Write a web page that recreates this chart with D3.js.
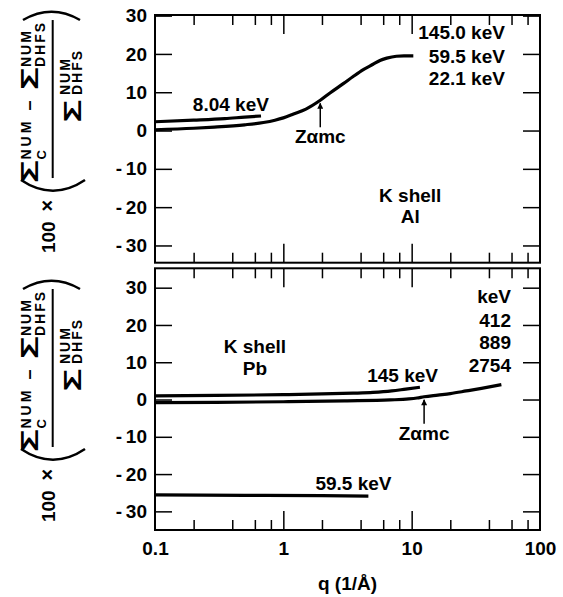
<!DOCTYPE html>
<html>
<head>
<meta charset="utf-8">
<script src="https://cdn.jsdelivr.net/npm/d3@7"></script>
<style>
body{margin:0;background:#fff}
svg text{font-family:"Liberation Sans",Arial,sans-serif;font-weight:bold;fill:#000}
.axis text{font-size:19px}
.tick line{stroke:#000;stroke-width:1.5}
</style>
</head>
<body>
<div id="chart"></div>
<script>
// q axis, 1/Å
const qLabels=[0.1,1,10,100];
const qMajor=[1,10];
const qMinor=[0.2,0.4,0.6,0.8,2,4,6,8,20,40,60,80];
const yTicks=[-30,-20,-10,0,10,20,30];

// K shell Al : 8.04 keV
const alLowQ=[0.1,0.2,0.35,0.5,0.67];
const alLowV=[2.3,2.7,3.1,3.5,3.8];
// K shell Al : 145.0 / 59.5 / 22.1 keV
const alHighQ=[0.1,0.2,0.29,0.5,0.7,0.86,1.0,1.2,1.5,1.94,2.31,2.95,3.5,4.2,5.0,5.66,6.4,7.6,8.7,10.3];
const alHighV=[0.2,0.6,0.9,1.5,2.1,2.7,3.3,4.3,5.6,7.9,9.8,12.3,14.1,15.9,17.3,18.3,18.9,19.4,19.5,19.5];
const alZamc=1.94;

// K shell Pb : 145 keV
const pb145Q=[0.1,0.3,1.0,2.0,3.5,5.0,7.0,9.0,11.6];
const pb145V=[1.0,1.1,1.3,1.5,1.7,1.9,2.3,2.8,3.3];
// K shell Pb : 412 / 889 / 2754 keV
const pbHighQ=[0.1,0.3,1.0,3.0,6.8,9.5,11.0,12.5,16,20,26.6,35,50];
const pbHighV=[-0.85,-0.75,-0.6,-0.35,-0.1,0.15,0.4,0.75,1.2,1.6,2.3,3.0,4.0];
// K shell Pb : 59.5 keV
const pb59Q=[0.1,0.5,2.0,4.6];
const pb59V=[-25.6,-25.7,-25.8,-25.9];
const pbZamc=12.5;

const W=563,H=597,L=155,R=540;
const svg=d3.select("#chart").append("svg").attr("width",W).attr("height",H);
svg.append("rect").attr("width",W).attr("height",H).attr("fill","#fff");

const defs=svg.append("defs");
defs.append("marker").attr("id","head")
    .attr("viewBox","0 0 10 10").attr("refX",9).attr("refY",5)
    .attr("markerUnits","userSpaceOnUse")
    .attr("markerWidth",9).attr("markerHeight",6).attr("orient","auto")
  .append("path").attr("d","M0,0L10,5L0,10z").attr("fill","#000");

const x=d3.scaleLog().domain([0.1,100]).range([L,R]);

const panels=[
  {top:15,bottom:262.7,dom:[-34.5,30.16],
   curves:[[alLowQ,alLowV],[alHighQ,alHighV]],arrow:alZamc,arrowCurve:[alHighQ,alHighV]},
  {top:268.3,bottom:530,dom:[-35.0,35.2],
   curves:[[pb145Q,pb145V],[pbHighQ,pbHighV],[pb59Q,pb59V]],arrow:pbZamc,arrowCurve:[pbHighQ,pbHighV]}
];
panels.forEach(p=>{p.y=d3.scaleLinear().domain(p.dom).range([p.bottom,p.top]);});

const fmtY=d=>d<0?"-\u2009"+(-d):String(d);

function interp(qs,vs,q){
  const lq=Math.log10(q);
  for(let i=1;i<qs.length;i++){
    if(q<=qs[i]){
      const a=Math.log10(qs[i-1]),b=Math.log10(qs[i]);
      return vs[i-1]+(vs[i]-vs[i-1])*(lq-a)/(b-a);
    }
  }
  return vs[vs.length-1];
}

function note(g,txt,px,py,anchor){
  g.append("text").attr("x",px).attr("y",py).attr("font-size",19)
   .attr("text-anchor",anchor||"middle").text(txt);
}

panels.forEach((p,i)=>{
  const g=svg.append("g");
  const y=p.y;
  const noDomain=s=>s.select(".domain").remove();

  g.append("g").attr("class","axis").attr("transform","translate("+L+",0)")
   .call(d3.axisLeft(y).tickValues(yTicks).tickSizeInner(-17).tickSizeOuter(0).tickPadding(8).tickFormat(fmtY))
   .call(noDomain);
  g.append("g").attr("class","axis").attr("transform","translate("+R+",0)")
   .call(d3.axisRight(y).tickValues(yTicks).tickSizeInner(-17).tickSizeOuter(0).tickFormat(""))
   .call(noDomain);
  g.append("g").attr("class","axis").attr("transform","translate(0,"+p.bottom+")")
   .call(d3.axisBottom(x).tickValues(qMinor).tickSizeInner(-10).tickSizeOuter(0).tickFormat(""))
   .call(noDomain);
  g.append("g").attr("class","axis").attr("transform","translate(0,"+p.bottom+")")
   .call(d3.axisBottom(x).tickValues(qMajor).tickSizeInner(-19).tickSizeOuter(0).tickFormat(""))
   .call(noDomain);
  g.append("g").attr("class","axis").attr("transform","translate(0,"+p.top+")")
   .call(d3.axisTop(x).tickValues(qMinor).tickSizeInner(-10).tickSizeOuter(0).tickFormat(""))
   .call(noDomain);
  g.append("g").attr("class","axis").attr("transform","translate(0,"+p.top+")")
   .call(d3.axisTop(x).tickValues(qMajor).tickSizeInner(-19).tickSizeOuter(0).tickFormat(""))
   .call(noDomain);

  if(i===1){
    g.append("g").attr("class","axis").attr("transform","translate(0,"+p.bottom+")")
     .call(d3.axisBottom(x).tickValues(qLabels).tickSize(0).tickPadding(12).tickFormat(d=>String(d)))
     .call(noDomain);
  }

  g.append("rect").attr("x",L).attr("y",p.top).attr("width",R-L).attr("height",p.bottom-p.top)
   .attr("fill","none").attr("stroke","#000").attr("stroke-width",2);

  const line=d3.line().x(d=>x(d[0])).y(d=>y(d[1])).curve(d3.curveMonotoneX);
  p.curves.forEach(c=>{
    g.append("path").datum(d3.zip(c[0],c[1])).attr("d",line)
     .attr("fill","none").attr("stroke","#000").attr("stroke-width",3.2);
  });

  // Zαmc arrow
  const ax=x(p.arrow);
  const tip=y(interp(p.arrowCurve[0],p.arrowCurve[1],p.arrow))+3;
  g.append("line").attr("x1",ax).attr("x2",ax).attr("y1",tip+24).attr("y2",tip)
   .attr("stroke","#000").attr("stroke-width",1.5).attr("marker-end","url(#head)");
  note(g,"Z\u03B1mc",ax,tip+40);

  // y title
  const t=g.append("g").attr("transform","translate(0,"+y(0)+") rotate(-90)");
  const tx=(s,u,v,fs,extra)=>{
    const e=t.append("text").attr("x",u).attr("y",v).attr("font-size",fs).text(s);
    if(extra) extra(e);
    return e;
  };
  const sig=(u,v)=>tx("\u03A3",u,v,24,e=>e.attr("textLength",23).attr("lengthAdjust","spacingAndGlyphs"));
  const sm=e=>e.attr("letter-spacing",2);
  tx("100",-122.5,55,19);
  tx("\u00D7",-81,54,20);
  t.append("path").attr("d","M-49.5,21Q-71,53 -49.5,85").attr("fill","none").attr("stroke","#000").attr("stroke-width",2.5);
  sig(-52.5,38);
  tx("C",-29,46,13);
  tx("NUM",-29,31,14,e=>e.attr("letter-spacing",3));
  tx("\u2013",20,35,18);
  sig(40.5,38);
  tx("NUM",63.5,31,14,sm);
  tx("DHFS",63.5,45,14,sm);
  t.append("line").attr("x1",-47.5).attr("x2",110.5).attr("y1",52.7).attr("y2",52.7).attr("stroke","#000").attr("stroke-width",2);
  sig(8,81);
  tx("NUM",35.5,70,14,sm);
  tx("DHFS",35.5,82,14,sm);
  t.append("path").attr("d","M110.5,23Q127,51.5 110.5,80").attr("fill","none").attr("stroke","#000").attr("stroke-width",2.5);
});

// annotations
const yA=panels[0].y, yB=panels[1].y;
note(svg,"8.04 keV",x(0.39),yA(5.0));
note(svg,"145.0 keV",x(53.3),yA(23.8),"end");
note(svg,"59.5 keV",x(53.3),yA(17.5),"end");
note(svg,"22.1 keV",x(53.3),yA(11.9),"end");
note(svg,"K shell",x(9.75),yA(-18.6));
note(svg,"Al",x(9.75),yA(-24.2));

note(svg,"K shell",x(0.6),yB(12.4));
note(svg,"Pb",x(0.6),yB(6.6));
note(svg,"145 keV",x(8.5),yB(4.8));
note(svg,"59.5 keV",x(3.52),yB(-24.3));
note(svg,"keV",x(59.4),yB(25.8),"end");
note(svg,"412",x(59.4),yB(19.5),"end");
note(svg,"889",x(59.4),yB(13.5),"end");
note(svg,"2754",x(59.4),yB(7.5),"end");

svg.append("text").attr("x",(L+R)/2).attr("y",590).attr("font-size",19)
   .attr("text-anchor","middle").text("q (1/\u00C5)");
</script>
</body>
</html>
